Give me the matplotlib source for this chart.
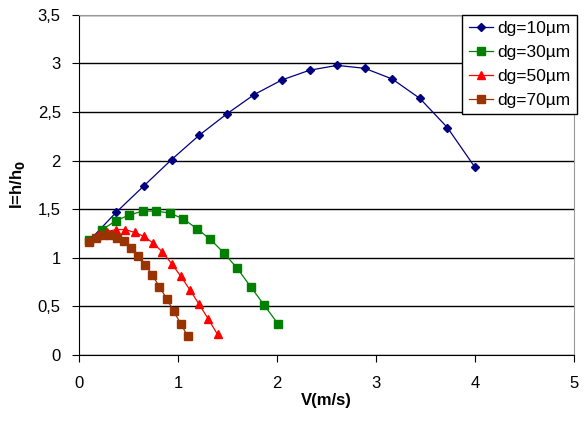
import numpy as np
import matplotlib.pyplot as plt
from matplotlib.ticker import FuncFormatter

plt.rcParams['font.family'] = ['Liberation Sans', 'DejaVu Sans']

# valores
v10 = [0.1, 0.379, 0.657, 0.936, 1.214, 1.493, 1.771, 2.05, 2.329, 2.607, 2.886, 3.164, 3.443, 3.721, 4.0]
i10 = [1.17, 1.47, 1.74, 2.01, 2.26, 2.48, 2.68, 2.83, 2.93, 2.98, 2.95, 2.84, 2.64, 2.34, 1.93]

v30 = [0.1, 0.236, 0.373, 0.509, 0.646, 0.782, 0.918, 1.055, 1.191, 1.327, 1.464, 1.6, 1.736, 1.873, 2.01]
i30 = [1.18, 1.29, 1.38, 1.44, 1.48, 1.48, 1.46, 1.40, 1.30, 1.19, 1.05, 0.89, 0.70, 0.51, 0.32]

v50 = [0.1, 0.193, 0.286, 0.379, 0.471, 0.564, 0.657, 0.75, 0.843, 0.936, 1.029, 1.121, 1.214, 1.307, 1.4]
i50 = [1.17, 1.23, 1.27, 1.29, 1.29, 1.26, 1.22, 1.15, 1.06, 0.94, 0.81, 0.67, 0.52, 0.37, 0.21]

v70 = [0.1, 0.171, 0.243, 0.314, 0.386, 0.457, 0.529, 0.6, 0.671, 0.743, 0.814, 0.886, 0.957, 1.029, 1.1]
i70 = [1.16, 1.20, 1.23, 1.23, 1.20, 1.17, 1.10, 1.02, 0.93, 0.82, 0.70, 0.58, 0.45, 0.32, 0.19]

fig = plt.figure(figsize=(5.84, 4.25), dpi=100)
ax = fig.add_axes([0.135, 0.165, 0.848, 0.80])

ax.plot(v10, i10, color='#000080', marker='D', markersize=4, lw=0.9, label='dg=10µm', zorder=3)
ax.plot(v30, i30, color='#008000', marker='s', markersize=6, lw=0.9, label='dg=30µm', zorder=4)
ax.plot(v50, i50, color='#ff0000', marker='^', markersize=5.5, lw=0.9, label='dg=50µm', zorder=5)
ax.plot(v70, i70, color='#993300', marker='s', markersize=6, lw=0.9, label='dg=70µm', zorder=6)

ax.set_xlim(0, 5)
ax.set_ylim(0, 3.5)
ax.set_xticks(np.arange(0, 6, 1))
ax.set_yticks(np.arange(0, 4, 0.5))
ax.yaxis.set_major_formatter(FuncFormatter(lambda y, p: ('%g' % y).replace('.', ',')))
ax.yaxis.grid(True, color='black', lw=1)
ax.set_axisbelow(True)

for s in ['top', 'right']:
    ax.spines[s].set_color('#999999')
for s in ['left', 'bottom']:
    ax.spines[s].set_color('black')
ax.tick_params(direction='out', length=5, labelsize=12, colors='black', pad=8)
ax.tick_params(axis='x', pad=10)

ax.set_xlabel('V(m/s)', fontsize=12, fontweight='bold', labelpad=2)
ax.set_ylabel('I=h/h$_\\mathbf{0}$', fontsize=12, fontweight='bold', labelpad=8)

leg = ax.legend(loc='upper right', bbox_to_anchor=(1.005, 1.0), fontsize=12.5, frameon=True,
                fancybox=False, edgecolor='black', framealpha=1, borderpad=0.35,
                handlelength=1.4, handletextpad=0.25, labelspacing=0.5, borderaxespad=0)
leg.get_frame().set_linewidth(1)

fig.savefig('out.png', dpi=100)
